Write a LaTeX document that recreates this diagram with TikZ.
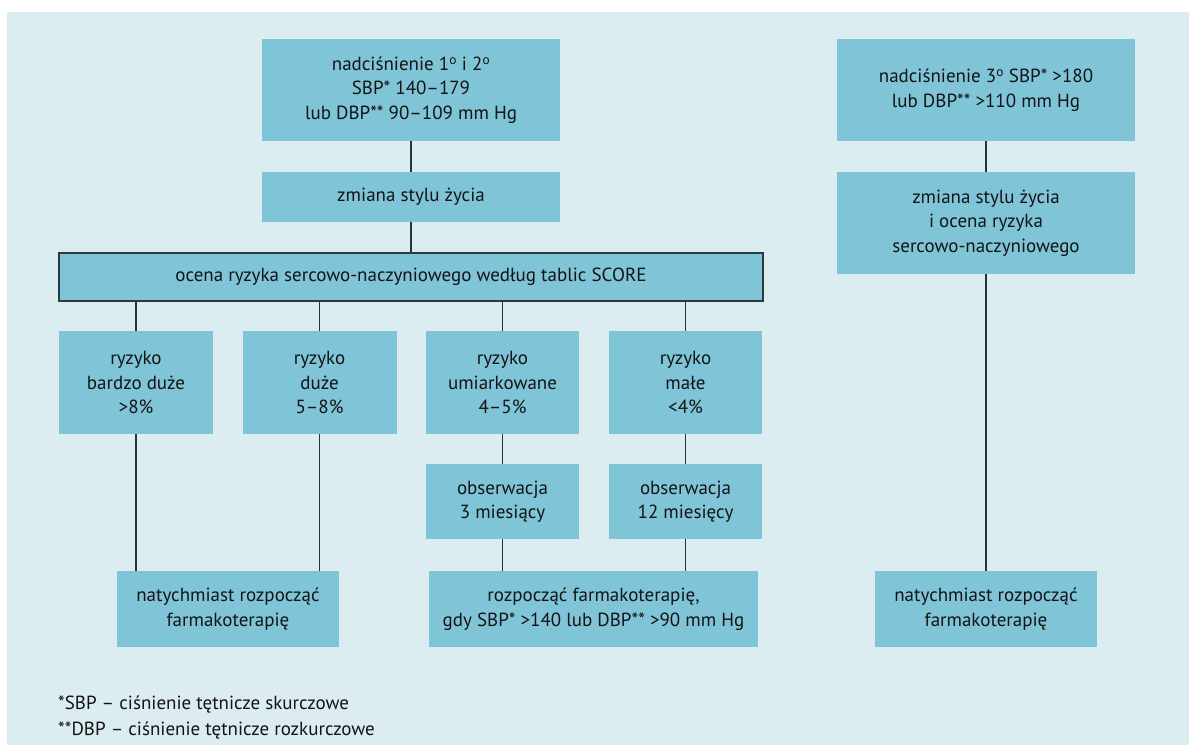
\documentclass[tikz,border=0pt]{standalone}
\usepackage{fontspec}
\setmainfont{PT Sans}
\definecolor{bgc}{HTML}{DCEDF1}
\definecolor{boxc}{HTML}{80C4D8}
\definecolor{txtc}{HTML}{141414}
\definecolor{edgec}{HTML}{2A3A40}
\begin{document}
\begin{tikzpicture}[x=1pt,y=-1pt,
  box/.style={rectangle,fill=boxc,draw=none,inner sep=0pt,align=center,text=txtc,
    font=\fontsize{19}{24.5}\selectfont},
  link/.style={draw=edgec!90!black,line width=1.2pt}]
\useasboundingbox (0,0) rectangle (1198,745);
\fill[bgc] (7,12) rectangle (1189,745);
% left column
\node[box,minimum width=298pt,minimum height=102pt] (A) at (411,90)
  {nadciśnienie 1\textsuperscript{o} i 2\textsuperscript{o}\\SBP* 140–179\\lub DBP** 90–109 mm Hg};
\node[box,minimum width=298pt,minimum height=50pt] (B) at (411,197) {zmiana stylu życia};
\node[box,draw=edgec,line width=1.5pt,minimum width=704pt,minimum height=48pt] (S) at (411,277)
  {ocena ryzyka sercowo-naczyniowego według tablic SCORE};
\node[box,minimum width=154pt,minimum height=103pt] (R1) at (136,382.5) {ryzyko\\bardzo duże\\>8\%};
\node[box,minimum width=154pt,minimum height=103pt] (R2) at (319.5,382.5) {ryzyko\\duże\\5–8\%};
\node[box,minimum width=153pt,minimum height=103pt] (R3) at (502.5,382.5) {ryzyko\\umiarkowane\\4–5\%};
\node[box,minimum width=153pt,minimum height=103pt] (R4) at (685.5,382.5) {ryzyko\\małe\\<4\%};
\node[box,minimum width=153pt,minimum height=75pt] (O3) at (502.5,501.5) {obserwacja\\3 miesiący};
\node[box,minimum width=153pt,minimum height=75pt] (O4) at (685.5,501.5) {obserwacja\\12 miesięcy};
\node[box,minimum width=222pt,minimum height=76pt] (NL) at (228,609) {natychmiast rozpocząć\\farmakoterapię};
\node[box,minimum width=329pt,minimum height=76pt] (M) at (593.5,609)
  {rozpocząć farmakoterapię,\\gdy SBP* >140 lub DBP** >90 mm Hg};
% right column
\node[box,minimum width=298pt,minimum height=102pt] (C) at (986,90)
  {nadciśnienie 3\textsuperscript{o} SBP* >180\\lub DBP** >110 mm Hg};
\node[box,minimum width=298pt,minimum height=102pt] (D) at (986,223)
  {zmiana stylu życia\\i ocena ryzyka\\sercowo-naczyniowego};
\node[box,minimum width=222pt,minimum height=76pt] (NR) at (986,609) {natychmiast rozpocząć\\farmakoterapię};
% footnote
\node[anchor=north west,inner sep=0pt,align=left,text=txtc,font=\fontsize{19}{25.5}\selectfont] (F) at (58,696)
  {*SBP – ciśnienie tętnicze skurczowe\\**DBP – ciśnienie tętnicze rozkurczowe};
% connectors
\draw[link] (A.south) -- (B.north);
\draw[link] (B.south) -- (S.north);
\foreach \r in {R1,R2,R3,R4} \draw[link] (S.south -| \r.north) -- (\r.north);
\draw[link] (R1.south) -- (R1.south |- NL.north);
\draw[link] (R2.south) -- (R2.south |- NL.north);
\draw[link] (R3.south) -- (O3.north);
\draw[link] (R4.south) -- (O4.north);
\draw[link] (O3.south) -- (O3.south |- M.north);
\draw[link] (O4.south) -- (O4.south |- M.north);
\draw[link] (C.south) -- (D.north);
\draw[link] (D.south) -- (NR.north);
\end{tikzpicture}
\end{document}
